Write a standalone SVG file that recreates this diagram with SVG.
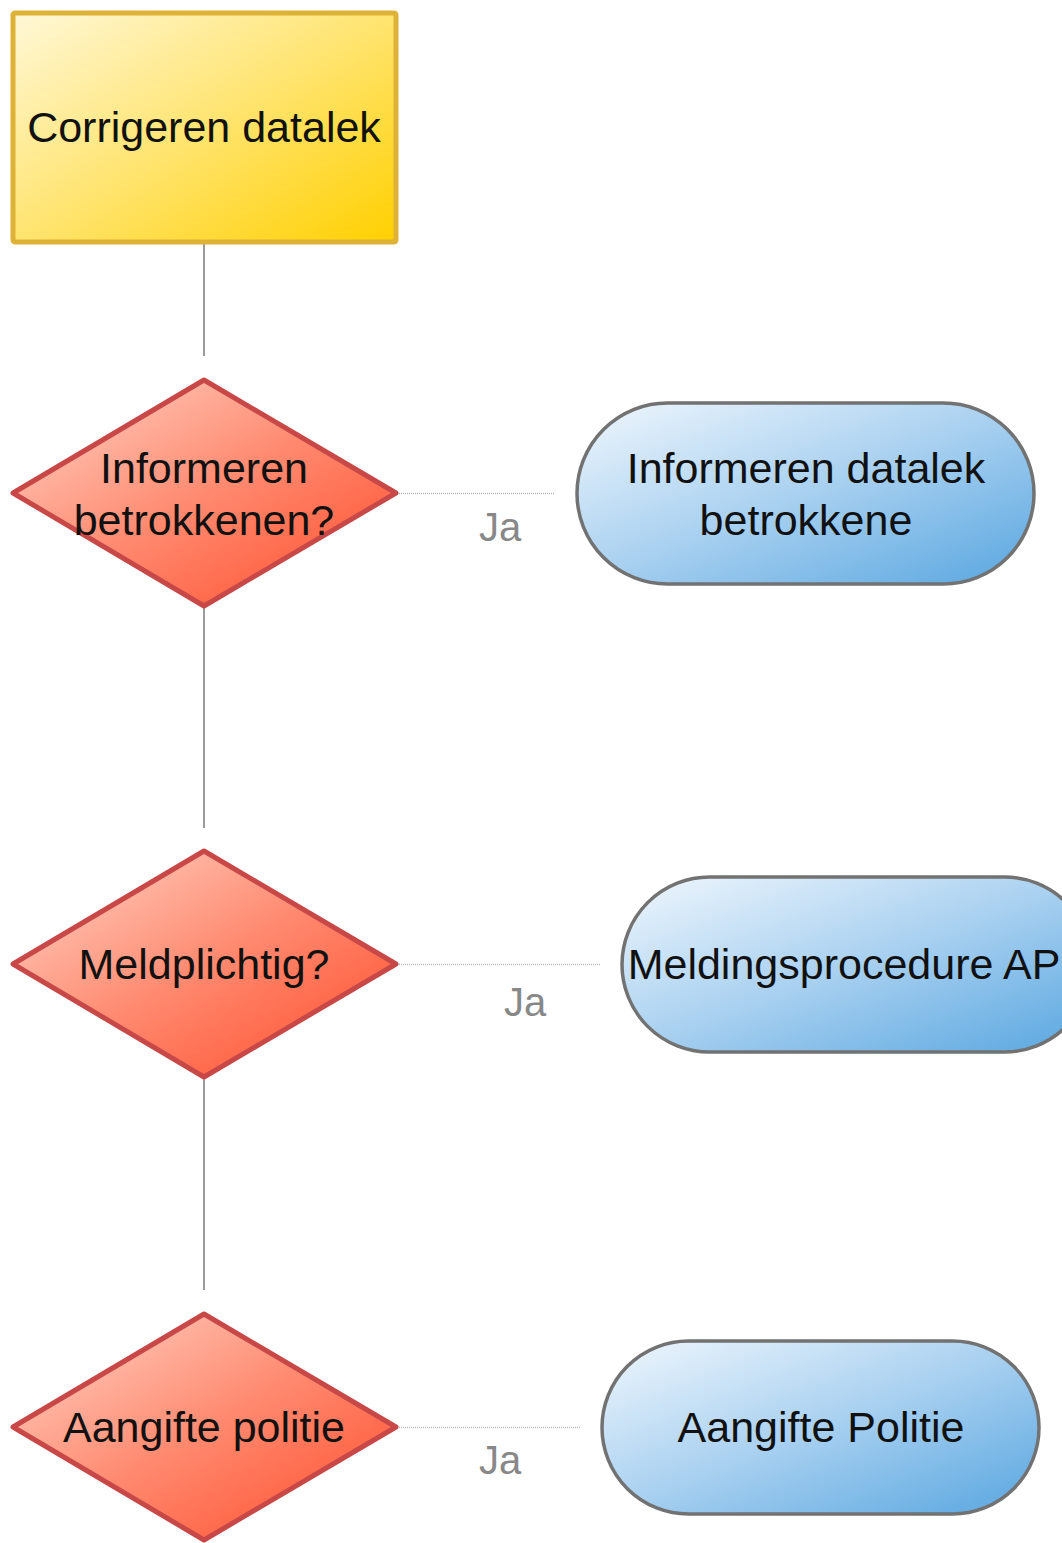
<svg xmlns="http://www.w3.org/2000/svg" width="1062" height="1543" viewBox="0 0 1062 1543">
<defs>
<linearGradient id="gY" x1="0" y1="0" x2="1" y2="1"><stop offset="0" stop-color="#FFF8D8"/><stop offset="0.5" stop-color="#FFE470"/><stop offset="1" stop-color="#FFD000"/></linearGradient>
<linearGradient id="gR" x1="0" y1="0" x2="1" y2="1"><stop offset="0" stop-color="#FFD8CC"/><stop offset="0.5" stop-color="#FF8A70"/><stop offset="1" stop-color="#FF4A28"/></linearGradient>
<linearGradient id="gB" x1="0" y1="0" x2="1" y2="1"><stop offset="0" stop-color="#F0F7FD"/><stop offset="0.5" stop-color="#A8D0F0"/><stop offset="1" stop-color="#58A6E0"/></linearGradient>
</defs>
<style>
.t{font-family:"Liberation Sans",Arial,sans-serif;font-size:43px;fill:#111;text-anchor:middle}
.ja{font-family:"Liberation Sans",Arial,sans-serif;font-size:40px;fill:#888;text-anchor:middle}
.dia{fill:url(#gR);stroke:#C84848;stroke-width:5;stroke-linejoin:round}
.pill{fill:url(#gB);stroke:#727272;stroke-width:3.5}
.solid{stroke:#9a9a9a;stroke-width:2;fill:none}
.dot{stroke:#b8b8b8;stroke-width:1.5;stroke-dasharray:1 1;fill:none}
</style>
<rect width="1062" height="1543" fill="#fff"/>
<g id="connectors">
<line class="solid" x1="204" y1="243" x2="204" y2="356"/>
<line class="solid" x1="204" y1="607" x2="204" y2="828"/>
<line class="solid" x1="204" y1="1078" x2="204" y2="1290"/>
<line class="dot" x1="397" y1="493.5" x2="554" y2="493.5"/>
<line class="dot" x1="397" y1="964.5" x2="600" y2="964.5"/>
<line class="dot" x1="397" y1="1427.5" x2="580" y2="1427.5"/>
<text class="ja" x="500" y="541">Ja</text>
<text class="ja" x="525" y="1016">Ja</text>
<text class="ja" x="500" y="1474">Ja</text>
</g>
<g id="n-corrigeren">
<rect x="13" y="13" width="383" height="229" rx="2" fill="url(#gY)" stroke="#DDB236" stroke-width="5"/>
<text class="t" x="204" y="142">Corrigeren datalek</text>
</g>
<g id="n-informeren-q">
<polygon class="dia" points="204,380 396,493 204,606 13,493"/>
<text class="t" x="204" y="483">Informeren</text>
<text class="t" x="204" y="535">betrokkenen?</text>
</g>
<g id="n-informeren">
<rect class="pill" x="577" y="403" width="457" height="181" rx="90.5"/>
<text class="t" x="806" y="483">Informeren datalek</text>
<text class="t" x="806" y="535">betrokkene</text>
</g>
<g id="n-meldplichtig">
<polygon class="dia" points="204,851 396,964 204,1077 13,964"/>
<text class="t" x="204" y="979">Meldplichtig?</text>
</g>
<g id="n-melding">
<rect class="pill" x="622" y="877" width="470" height="175" rx="87.5"/>
<text class="t" x="844" y="979">Meldingsprocedure AP</text>
</g>
<g id="n-aangifte-q">
<polygon class="dia" points="204,1314 396,1427 204,1540 13,1427"/>
<text class="t" x="204" y="1442">Aangifte politie</text>
</g>
<g id="n-aangifte">
<rect class="pill" x="602" y="1341" width="437" height="173" rx="86.5"/>
<text class="t" x="821" y="1442">Aangifte Politie</text>
</g>
</svg>
